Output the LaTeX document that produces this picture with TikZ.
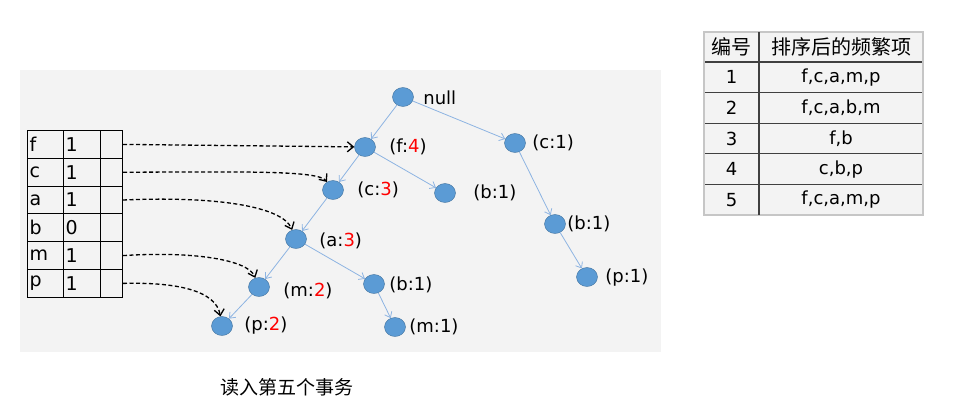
\documentclass[tikz,border=0pt]{standalone}
\usepackage{fontspec}
\setmainfont{DejaVu Sans}
\newfontfamily\cjk{Noto Sans CJK SC}
\usepackage{xcolor}
\usepackage{tikz}
\usetikzlibrary{positioning, arrows.meta, shapes.geometric}
\definecolor{nodefill}{HTML}{5B9BD5}
\definecolor{nodeline}{HTML}{41719C}
\definecolor{treelink}{HTML}{8DB4E2}
\definecolor{panel}{HTML}{F3F3F3}

\begin{document}
\begin{tikzpicture}[x=1pt, y=-1pt,
    item/.style={draw=nodeline, fill=nodefill, ellipse, minimum width=21pt, minimum height=19pt, inner sep=0pt},
    lbl/.style={font=\fontsize{18}{20}\selectfont, inner sep=0pt},
    cell/.style={draw, line width=1pt, anchor=north west, minimum height=27.8pt, inner xsep=2pt, inner ysep=0pt, align=left, font=\fontsize{19}{21}\selectfont},
    tree/.style={draw=treelink, line width=0.8pt, -{Straight Barb[length=5pt, width=8pt]}},
    ptr/.style={line width=1.3pt, dash pattern=on 4pt off 2.5pt, -{Straight Barb[length=6pt, width=10pt]}},
]
\useasboundingbox (0,0) rectangle (965,415);
\fill[panel] (20,70) rectangle (661,352);

% Header table
\foreach \k/\c [count=\i] in {f/1, c/1, a/1, b/0, m/1, p/1} {
  \node[cell, text width=32pt] (key\k) at (27, 130+27.8*\i-27.8) {\k};
  \node[cell, text width=33pt] (cnt\k) at (63, 130+27.8*\i-27.8) {\c};
  \node[cell, minimum width=22pt] (ptr\k) at (100, 130+27.8*\i-27.8) {};
}

% Tree nodes
\node[item] (null) at (403, 97) {};
\node[item] (f4) at (365, 147) {};
\node[item] (c1) at (515, 143) {};
\node[item] (c3) at (333, 190) {};
\node[item] (b1a) at (445, 193) {};
\node[item] (a3) at (296, 239) {};
\node[item] (b1r) at (555, 224) {};
\node[item] (p1) at (587, 277) {};
\node[item] (m2) at (259, 287) {};
\node[item] (b1b) at (374, 284) {};
\node[item] (p2) at (222, 326) {};
\node[item] (m1) at (395, 327) {};

% Labels
\node[lbl, right=9.5pt of null, yshift=-1pt] (lnull) {null};
\node[lbl, right=13.5pt of f4] (lf4) {(f:\textcolor{red}{4})};
\node[lbl, right=6.5pt of c1] (lc1) {(c:1)};
\node[lbl, right=13.5pt of c3] (lc3) {(c:\textcolor{red}{3})};
\node[lbl, right=17.5pt of b1a] (lb1a) {(b:1)};
\node[lbl, right=12.5pt of a3, yshift=-2pt] (la3) {(a:\textcolor{red}{3})};
\node[lbl, right=1.5pt of b1r] (lb1r) {(b:1)};
\node[lbl, right=7.5pt of p1, yshift=-1pt] (lp1) {(p:1)};
\node[lbl, right=13.5pt of m2, yshift=-4pt] (lm2) {(m:\textcolor{red}{2})};
\node[lbl, right=4.5pt of b1b, yshift=-1pt] (lb1b) {(b:1)};
\node[lbl, right=3.5pt of m1] (lm1) {(m:1)};
\node[lbl, right=11.5pt of p2] (lp2) {(p:\textcolor{red}{2})};

% Tree links
\draw[tree] (null) -- (f4);
\draw[tree] (null) -- (c1);
\draw[tree] (f4) -- (c3);
\draw[tree] (f4) -- (b1a);
\draw[tree] (c3) -- (a3);
\draw[tree] (a3) -- (m2);
\draw[tree] (a3) -- (b1b);
\draw[tree] (b1b) -- (m1);
\draw[tree] (m2) -- (p2);
\draw[tree] (c1) -- (b1r);
\draw[tree] (b1r) -- (p1);

% Header links
\draw[ptr] (ptrf.east) -- (f4);
\draw[ptr] (ptrc.east) .. controls (240,172) and (318,170) .. (c3);
\draw[ptr] (ptra.east) .. controls (215,196) and (282,206) .. (a3);
\draw[ptr] (ptrm.east) .. controls (195,251) and (248,260) .. (m2);
\draw[ptr] (ptrp.east) .. controls (175,282) and (216,290) .. (p2);

% Transaction table
\fill[panel] (704,32) rectangle (923,215);
\draw[gray!45, line width=2.5pt] (704,32) rectangle (923,215);
\draw[black!75, line width=1.2pt] (759,32) -- (759,215);
\foreach \y in {62, 92.6, 123.2, 153.8, 184.4}
  \draw[black!75, line width=1.2pt] (705,\y) -- (922,\y);
\node[font=\cjk\fontsize{20}{22}\selectfont] (hno) at (731.5,47) {编号};
\node[font=\cjk\fontsize{20}{22}\selectfont] (hitem) at (841,47) {排序后的频繁项};
\foreach \n/\s [count=\i] in {1/{f,c,a,m,p}, 2/{f,c,a,b,m}, 3/{f,b}, 4/{c,b,p}, 5/{f,c,a,m,p}} {
  \node[lbl] (no\i) at (731.5, 77.3+30.6*\i-30.6) {\n};
  \node[lbl] (tr\i) at (841, 77.3+30.6*\i-30.6) {\s};
}

% Caption
\node[font=\cjk\fontsize{19}{21}\selectfont] (cap) at (287,387) {读入第五个事务};
\end{tikzpicture}
\end{document}
